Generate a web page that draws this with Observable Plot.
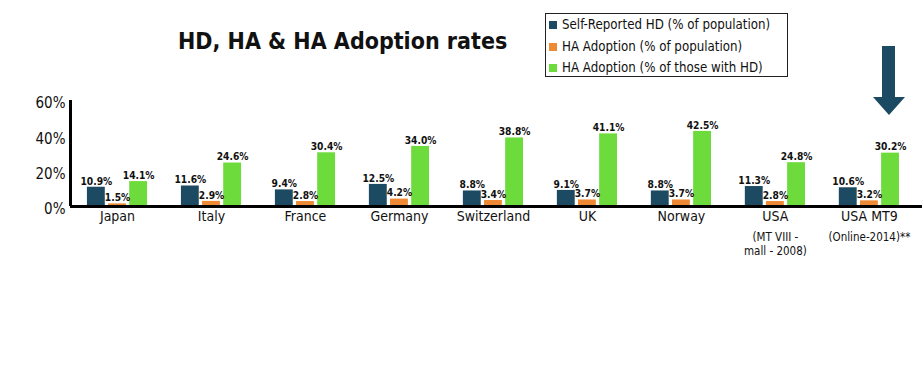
<!DOCTYPE html>
<html>
<head>
<meta charset="utf-8">
<script src="https://cdn.jsdelivr.net/npm/d3@7"></script>
<script src="https://cdn.jsdelivr.net/npm/@observablehq/plot@0.6"></script>
<style>
  html, body { margin: 0; padding: 0; background: #fff; }
  body { width: 922px; height: 386px; position: relative; overflow: hidden;
         font-family: "DejaVu Sans Condensed", "Liberation Sans Narrow", sans-serif; color: #111; }
  #title { position: absolute; left: 178px; top: 28px; font-size: 23px; font-weight: bold; white-space: nowrap; }
  #legend { position: absolute; left: 545px; top: 13px; width: 241px; height: 62px; border: 1px solid #222; box-sizing: content-box; }
  .li { position: absolute; left: 3px; font-size: 13.2px; white-space: nowrap; line-height: 16px; }
  .li span.sw { display: inline-block; width: 8px; height: 8px; margin-right: 5px; vertical-align: 0px; }
  #arrow { position: absolute; left: 872px; top: 46px; }
  #chart { position: absolute; left: 0; top: 0; }
</style>
</head>
<body>
<div id="chart"></div>
<div id="title">HD, HA &amp; HA Adoption rates</div>
<div id="legend"></div>
<svg id="arrow" width="34" height="70"><polygon points="10,0 23,0 23,51 33,51 17,69 1,51 10,51" fill="#1b4a62"/></svg>
<script>
const categories = ["Japan","Italy","France","Germany","Switzerland","UK","Norway","USA","USA MT9"];
const subLabels = ["","","","","","","","(MT VIII -\nmall - 2008)","(Online-2014)**"];
const seriesKeys = ["hd","haPop","haHD"];
const seriesNames = ["Self-Reported HD (% of population)","HA Adoption (% of population)","HA Adoption (% of those with HD)"];
const seriesColors = ["#1b4a62","#ee8a35","#6edb3c"];
const hdValues    = [10.9, 11.6, 9.4, 12.5, 8.8, 9.1, 8.8, 11.3, 10.6];
const haPopValues = [1.5, 2.9, 2.8, 4.2, 3.4, 3.7, 3.7, 2.8, 3.2];
const haHDValues  = [14.1, 24.6, 30.4, 34.0, 38.8, 41.1, 42.5, 24.8, 30.2];
const yTicks = [0, 20, 40, 60];

// group layout in category units (one category = 1 unit)
const barW = 0.19, barStep = 0.225;
const valuesBySeries = [hdValues, haPopValues, haHDValues];
const rows = [];
categories.forEach((c, i) => {
  seriesKeys.forEach((k, j) => {
    const cx = i + (j - 1) * barStep;
    rows.push({cat: c, series: k, value: valuesBySeries[j][i], cx, x1: cx - barW / 2, x2: cx + barW / 2});
  });
});
const catRows = categories.map((c, i) => ({cat: c, sub: subLabels[i], i}));

const font = '"DejaVu Sans Condensed", "Liberation Sans Narrow", sans-serif';

const chart = Plot.plot({
  width: 922,
  height: 386,
  marginTop: 100,
  marginBottom: 180,
  marginLeft: 70,
  marginRight: 0,
  style: {fontFamily: font, color: "#111", background: "transparent"},
  x: {domain: [-0.5, categories.length - 0.5 + 0.065], axis: null},
  y: {domain: [0, 60], axis: null},
  color: {domain: seriesKeys, range: seriesColors},
  marks: [
    Plot.rectY(rows, {x1: "x1", x2: "x2", y: "value", fill: "series"}),
    Plot.text(rows, {x: "cx", y: "value", text: d => d.value.toFixed(1) + "%",
      dy: -6, fontSize: 10.2, fontWeight: "bold", fill: "#111"}),
    Plot.ruleY([0], {strokeWidth: 3, stroke: "#000"}),
    Plot.ruleX([-0.5], {y1: 0, y2: 60, strokeWidth: 3, stroke: "#000"}),
    Plot.text(catRows, {x: "i", text: "cat", frameAnchor: "bottom", lineAnchor: "top", dy: 5, fontSize: 14, fill: "#111"}),
    Plot.text(catRows, {x: "i", text: "sub", frameAnchor: "bottom", lineAnchor: "top", dy: 24, fontSize: 11.5, lineHeight: 1.25, fill: "#111"}),
    Plot.axisY({ticks: yTicks, tickFormat: d => d + "%", tickSize: 0, tickPadding: 5, fontSize: 15, dy: 3,
      label: null, anchor: "left"})
  ]
});
document.getElementById("chart").appendChild(chart);

const legend = document.getElementById("legend");
seriesNames.forEach((n, i) => {
  const d = document.createElement("div");
  d.className = "li";
  d.style.top = (3 + i * 21.5) + "px";
  d.innerHTML = `<span class="sw" style="background:${seriesColors[i]}"></span>${n}`;
  legend.appendChild(d);
});
</script>
</body>
</html>
